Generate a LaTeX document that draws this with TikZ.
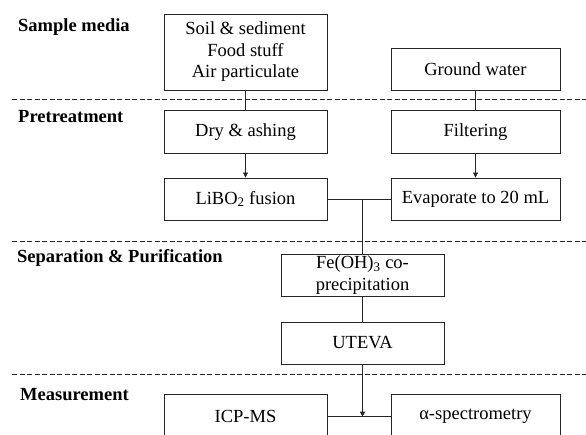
\documentclass[tikz,border=0pt]{standalone}
\usepackage{fontspec}
\setmainfont{Liberation Serif}
\usetikzlibrary{arrows.meta}
\begin{document}
\begin{tikzpicture}[x=1pt,y=-1pt,
  box/.style={draw=black!85, line width=0.8pt, align=center, inner sep=0pt,
    font=\fontsize{18.5}{21.5}\selectfont},
  lab/.style={anchor=west, inner sep=0pt, font=\fontsize{18.5}{21.5}\selectfont\bfseries},
  sep/.style={draw=black!85, line width=0.8pt, dash pattern=on 5pt off 2.5pt},
  conn/.style={draw=black!85, line width=0.7pt},
  arr/.style={conn, -{Triangle[width=5pt,length=5pt]}}]
\useasboundingbox (0,0) rectangle (586,435);
\clip (0,0) rectangle (586,435);
% section separators
\draw[sep] (12,99.5) -- (586,99.5);
\draw[sep] (12,241.7) -- (586,241.7);
\draw[sep] (12,374) -- (586,374);
% labels
\node[lab] (l1) at (18,27) {Sample media};
\node[lab] (l2) at (18,117) {Pretreatment};
\node[lab] (l3) at (17,258) {Separation \& Purification};
\node[lab] (l4) at (20,395) {Measurement};
% boxes
\node[box, minimum width=163pt, minimum height=76pt] (soil) at (245.5,52) {Soil \& sediment\\Food stuff\\Air particulate};
\node[box, minimum width=169pt, minimum height=42pt] (gw) at (475.5,69) {Ground water};
\node[box, minimum width=163pt, minimum height=42.5pt] (dry) at (245.5,132) {Dry \& ashing};
\node[box, minimum width=169pt, minimum height=42.5pt] (filt) at (475.5,132) {Filtering};
\node[box, minimum width=163pt, minimum height=42pt] (libo) at (245.5,199) {LiBO\textsubscript{2} fusion};
\node[box, minimum width=169pt, minimum height=42pt] (evap) at (475.5,199) {Evaporate to 20 mL};
\node[box, minimum width=163pt, minimum height=42pt] (fe) at (362.5,275) {Fe(OH)\textsubscript{3} co-\\precipitation};
\node[box, minimum width=163pt, minimum height=42pt] (ut) at (362.5,343) {UTEVA};
\node[box, minimum width=163pt, minimum height=45pt] (icp) at (245.5,416.7) {ICP-MS};
\node[box, minimum width=169pt, minimum height=45pt] (alpha) at (475.5,416.7) {α-spectrometry};
% connectors
\draw[conn] (soil) -- (dry);
\draw[conn] (gw) -- (filt);
\draw[arr] (dry) -- (libo);
\draw[arr] (filt) -- (evap);
\draw[conn] (libo) -- (evap);
\coordinate (j1) at (fe.north |- libo.east);
\draw[conn] (j1) -- (fe.north);
\draw[conn] (fe) -- (ut);
\draw[conn] (icp) -- (alpha);
\coordinate (j2) at (ut.south |- icp.east);
\draw[arr] (ut.south) -- (j2);
\end{tikzpicture}
\end{document}
